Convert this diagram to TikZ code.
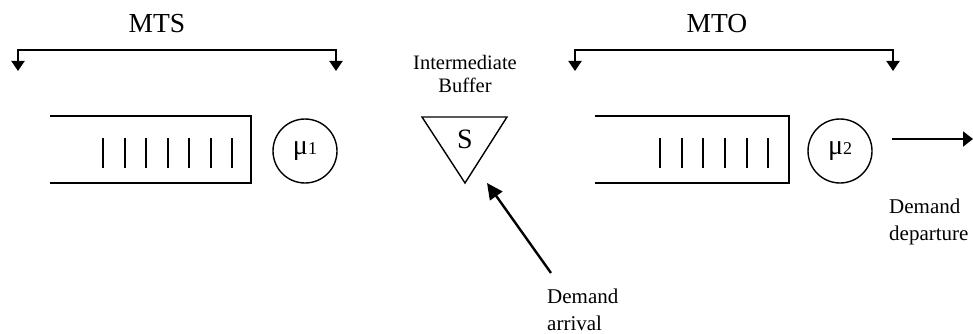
\documentclass[tikz,border=0pt]{standalone}
\usepackage{fontspec}
\setmainfont{Liberation Serif}
\usetikzlibrary{arrows.meta}
\begin{document}
\begin{tikzpicture}[x=1pt,y=-1pt,
  bigtxt/.style={font=\fontsize{27.5}{30}\selectfont, inner sep=0pt, anchor=base},
  smalltxt/.style={font=\fontsize{21}{27}\selectfont, inner sep=0pt},
  qline/.style={line width=2pt},
  qbar/.style={line width=1.8pt},
  server/.style={circle, draw, line width=1.4pt, minimum size=64pt, inner sep=0pt, font=\fontsize{28}{30}\selectfont},
  bracket/.style={line width=2pt, {Triangle[length=10pt,width=13pt]}-{Triangle[length=10pt,width=13pt]}},
  flow/.style={line width=2.2pt, -{Triangle[length=10pt,width=15pt]}},
  flowbig/.style={line width=2.4pt, -{Triangle[length=16pt,width=15pt]}}
]
\useasboundingbox (0,0) rectangle (973,334);

% MTS bracket
\node[bigtxt] (mts) at (157,33) {MTS};
\coordinate (mtsL) at (18,71);
\coordinate (mtsR) at (336,71);
\draw[bracket] (mtsL) -- ++(0,-21) -| (mtsR);

% MTO bracket
\node[bigtxt] (mto) at (717,33) {MTO};
\coordinate (mtoL) at (575,71);
\coordinate (mtoR) at (893,71);
\draw[bracket] (mtoL) -- ++(0,-21) -| (mtoR);

% queue 1
\draw[qline] (50,116) -- (251,116) -- (251,183) -- (50,183);
\foreach \i in {0,...,6} \draw[qbar] ({103.3+21.5*\i},138) -- ++(0,30);
\node[server] (s1) at (305,151) {μ{\fontsize{18}{18}\selectfont 1}};

% intermediate buffer
\node[font=\fontsize{20.5}{23}\selectfont, inner sep=0pt, anchor=base, align=center] (bufl) at (465,93) {Intermediate\\Buffer};
\draw[line width=1.4pt] (422,117) -- (507,117) -- (465,183) -- cycle;
\node[font=\fontsize{28}{30}\selectfont, inner sep=0pt, anchor=base] (S) at (465,148) {S};

% arrival
\coordinate (arrTail) at (551,273);
\coordinate (arrTip) at (487,183);
\draw[flowbig] (arrTail) -- (arrTip);
\node[smalltxt, anchor=base west, align=left] (arr) at (547,330) {Demand\\arrival};

% queue 2
\draw[qline] (595,116) -- (789,116) -- (789,183) -- (595,183);
\foreach \i in {0,...,5} \draw[qbar] ({660+21.65*\i},138) -- ++(0,30);
\node[server] (s2) at (840,151) {μ{\fontsize{18}{18}\selectfont 2}};

% departure
\coordinate (depS) at (892,139);
\coordinate (depE) at (973,139);
\draw[flow] (depS) -- (depE);
\node[smalltxt, anchor=base west, align=left] (dep) at (889,240) {Demand\\departure};
\end{tikzpicture}
\end{document}
